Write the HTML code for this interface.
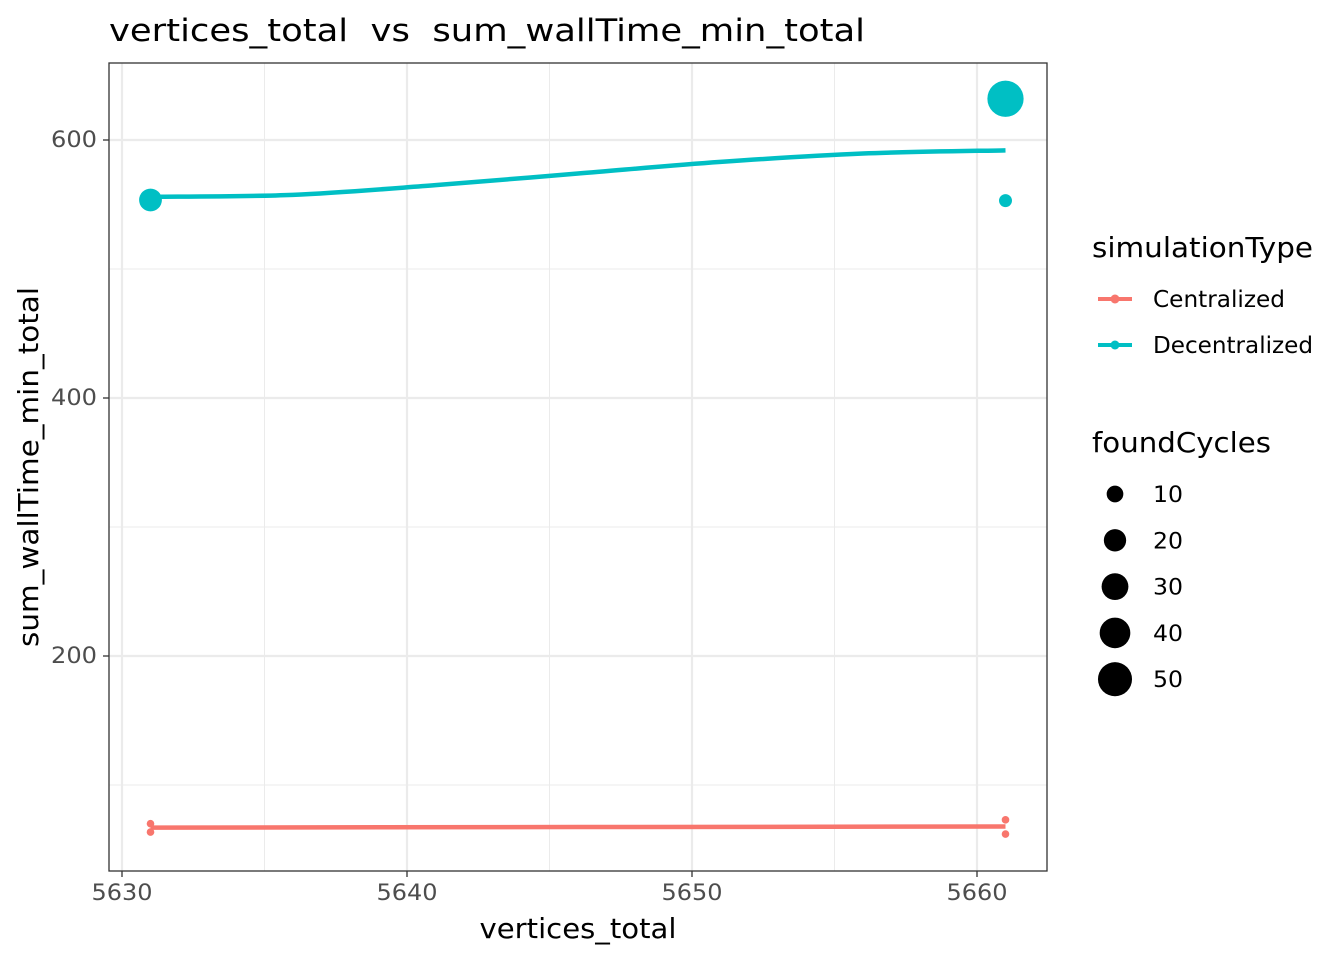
<!DOCTYPE html>
<html><head><meta charset="utf-8"><style>
body{margin:0;background:#fff;font-family:"DejaVu Sans","Liberation Sans",sans-serif;}
svg text{font-family:"DejaVu Sans","Liberation Sans",sans-serif;white-space:pre;}
</style></head><body>
<svg id="chart" width="1344" height="960" xmlns="http://www.w3.org/2000/svg" xml:space="preserve">
<text x="109" y="41" font-size="31" fill="#000" textLength="756" lengthAdjust="spacingAndGlyphs">vertices_total  vs  sum_wallTime_min_total</text>
<g id="grid"></g>
<g id="marks"></g>
<rect x="109" y="63" width="938" height="808" fill="none" stroke="#333" stroke-width="1.3"/>
<g id="axes"></g>
<text x="578" y="938" font-size="28" text-anchor="middle" textLength="197" lengthAdjust="spacingAndGlyphs">vertices_total</text>
<text transform="translate(38,467) rotate(-90)" font-size="28" text-anchor="middle" textLength="360" lengthAdjust="spacingAndGlyphs">sum_wallTime_min_total</text>
<g>
<text x="1092" y="257" font-size="28" textLength="221" lengthAdjust="spacingAndGlyphs">simulationType</text>
<g><line x1="1098" y1="299" x2="1132" y2="299" stroke="#F8766D" stroke-width="4"/><circle cx="1115" cy="299" r="4.5" fill="#F8766D"/><text x="1153" y="307" font-size="23" textLength="132" lengthAdjust="spacingAndGlyphs">Centralized</text></g>
<g><line x1="1098" y1="345" x2="1132" y2="345" stroke="#00BFC4" stroke-width="4"/><circle cx="1115" cy="345" r="4.5" fill="#00BFC4"/><text x="1153" y="353" font-size="23" textLength="160" lengthAdjust="spacingAndGlyphs">Decentralized</text></g>
</g>
<g id="sizeLegend">
<text x="1092" y="452" font-size="28" textLength="179" lengthAdjust="spacingAndGlyphs">foundCycles</text>
</g>
</svg>
<script>
const xTicks=[5630,5640,5650,5660];
const yTicks=[200,400,600];
const centralX=[5631,5631,5661,5661];
const centralY=[70,63.5,73,62];
const centralSize=[0,0,0,0];
const decentX=[5631,5661,5661];
const decentY=[553.5,632,553];
const decentSize=[21,57,5];
const centralFitX=[5631,5661];
const centralFitY=[67,67.8];
const decentFitX=[5631,5636,5641,5646,5651,5656,5661];
const decentFitY=[556,557.5,565,574,583,589.5,592];
const sizeBreaks=[10,20,30,40,50];

const NS="http://www.w3.org/2000/svg";
const xs=v=>122+(v-5630)*28.5;
const ys=v=>914-v*1.29;
const rs=v=>Math.sqrt(16+6.1*v)*0.95;
function mk(tag,attrs,parent){const e=document.createElementNS(NS,tag);for(const k in attrs)e.setAttribute(k,attrs[k]);parent.appendChild(e);return e;}
const grid=document.getElementById('grid'),marks=document.getElementById('marks'),axes=document.getElementById('axes'),sl=document.getElementById('sizeLegend');
for(let i=0;i<xTicks.length-1;i++){const m=(xTicks[i]+xTicks[i+1])/2;const l=mk('line',{x1:xs(m),x2:xs(m),y1:63,y2:871,stroke:'#ebebeb','stroke-width':1},grid);

}
const yMinor=[100,300,500];
yMinor.forEach(v=>{const l=mk('line',{x1:109,x2:1047,y1:ys(v),y2:ys(v),stroke:'#ebebeb','stroke-width':1},grid);

});
xTicks.forEach(v=>{const l=mk('line',{x1:xs(v),x2:xs(v),y1:63,y2:871,stroke:'#ebebeb','stroke-width':2.2},grid);


const t=mk('line',{x1:xs(v),x2:xs(v),y1:871,y2:877,stroke:'#333','stroke-width':1.3},axes);


const tx=mk('text',{x:xs(v),y:900,'font-size':22,fill:'#4d4d4d','text-anchor':'middle',textLength:61,lengthAdjust:'spacingAndGlyphs'},axes);tx.textContent=v;

});
yTicks.forEach(v=>{const l=mk('line',{x1:109,x2:1047,y1:ys(v),y2:ys(v),stroke:'#ebebeb','stroke-width':2.2},grid);


const t=mk('line',{x1:103,x2:109,y1:ys(v),y2:ys(v),stroke:'#333','stroke-width':1.3},axes);


const tx=mk('text',{x:97,y:ys(v)+7,'font-size':22,fill:'#4d4d4d','text-anchor':'end',textLength:46,lengthAdjust:'spacingAndGlyphs'},axes);tx.textContent=v;

});
function smooth(X,Y){const P=X.map((x,i)=>[xs(x),ys(Y[i])]);let d='M'+P[0][0]+','+P[0][1];
for(let i=0;i<P.length-1;i++){const p0=P[Math.max(0,i-1)],p1=P[i],p2=P[i+1],p3=P[Math.min(P.length-1,i+2)];
d+=' C'+(p1[0]+(p2[0]-p0[0])/6)+','+(p1[1]+(p2[1]-p0[1])/6)+' '+(p2[0]-(p3[0]-p1[0])/6)+','+(p2[1]-(p3[1]-p1[1])/6)+' '+p2[0]+','+p2[1];}
return d;}
const lc=mk('path',{d:smooth(centralFitX,centralFitY),fill:'none',stroke:'#F8766D','stroke-width':4.5},marks);


const ld=mk('path',{d:smooth(decentFitX,decentFitY),fill:'none',stroke:'#00BFC4','stroke-width':4.5,'stroke-linejoin':'round'},marks);


centralX.forEach((x,i)=>{const c=mk('circle',{cx:xs(x),cy:ys(centralY[i]),r:rs(centralSize[i]),fill:'#F8766D'},marks);

});
decentX.forEach((x,i)=>{const c=mk('circle',{cx:xs(x),cy:ys(decentY[i]),r:rs(decentSize[i]),fill:'#00BFC4'},marks);

});
sizeBreaks.forEach((v,i)=>{const y=494+i*46.3;
const c=mk('circle',{cx:1115,cy:y,r:rs(v),fill:'#000'},sl);


const t=mk('text',{x:1153,y:y+8,'font-size':22,textLength:30,lengthAdjust:'spacingAndGlyphs'},sl);t.textContent=v;

});
</script>
</body></html>
